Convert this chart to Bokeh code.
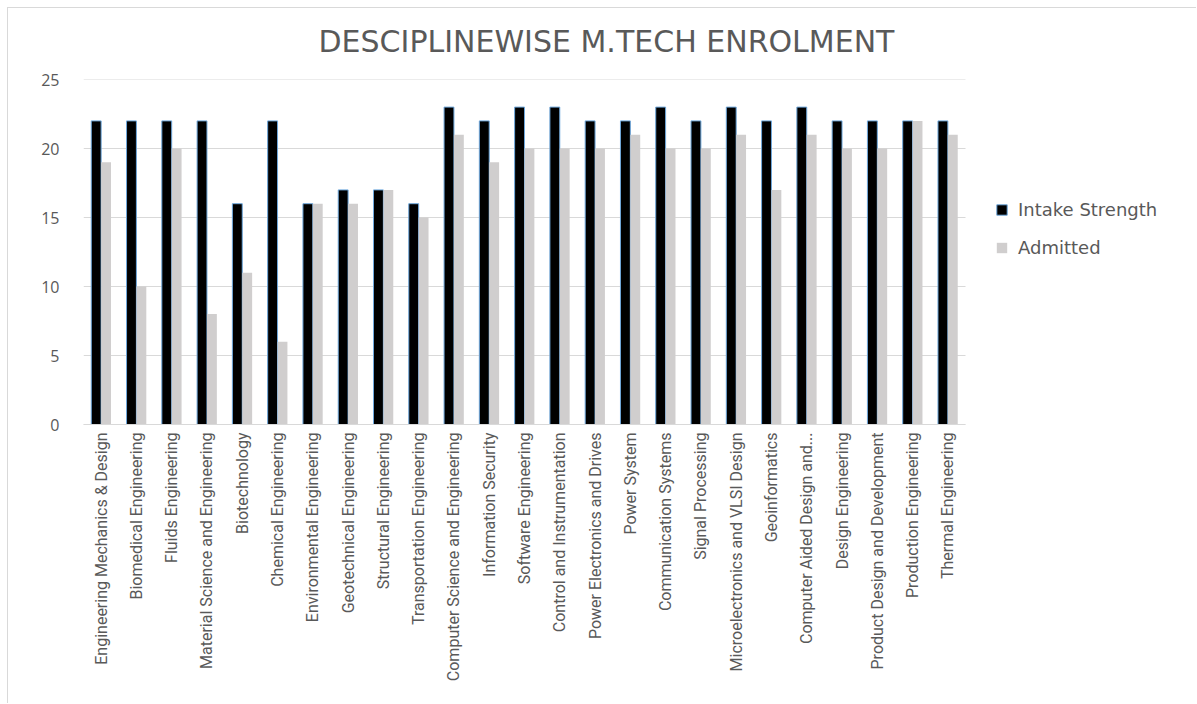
from bokeh.plotting import figure
from bokeh.models import ColumnDataSource, Range1d, Legend, LegendItem, FixedTicker
from bokeh.transform import dodge
from bokeh.embed import file_html
from bokeh.resources import INLINE
import math

categories = [
    "Engineering Mechanics & Design", "Biomedical Engineering", "Fluids Engineering",
    "Material Science and Engineering", "Biotechnology", "Chemical Engineering",
    "Environmental Engineering", "Geotechnical Engineering", "Structural Engineering",
    "Transportation Engineering", "Computer Science and Engineering", "Information Security",
    "Software Engineering", "Control and Instrumentation", "Power Electronics and Drives",
    "Power System", "Communication Systems", "Signal Processing",
    "Microelectronics and VLSI Design", "Geoinformatics", "Computer Aided Design and...",
    "Design Engineering", "Product Design and Development", "Production Engineering",
    "Thermal Engineering",
]
intake = [22, 22, 22, 22, 16, 22, 16, 17, 17, 16, 23, 22, 23, 23, 22, 22, 23, 22, 23, 22, 23, 22, 22, 22, 22]
admitted = [19, 10, 20, 8, 11, 6, 16, 16, 17, 15, 21, 19, 20, 20, 20, 21, 20, 20, 21, 17, 21, 20, 20, 22, 21]
y_ticks = [0, 5, 10, 15, 20, 25]
title_text = "DESCIPLINEWISE M.TECH ENROLMENT"
series_names = ["Intake Strength", "Admitted"]

n = len(categories)
idx = list(range(n))
src = ColumnDataSource(dict(idx=idx, cat=categories, intake=intake, admitted=admitted))

W, H = 1196, 703
left, right_px, top, bottom = 83, 1196, 79, 424
unit = 882 / n  # pixels per category
x_end = -0.5 + (right_px - left) / unit

p = figure(
    width=W, height=H,
    x_range=Range1d(-0.5, x_end),
    y_range=Range1d(0, 25),
    output_backend="svg", toolbar_location=None,
    min_border_left=left, min_border_right=W - right_px, min_border_top=top,
    min_border_bottom=H - bottom,
)
# light chart-area border (left and top edges) drawn behind a transparent canvas border
p.border_fill_alpha = 0
p.styles = {
    "background-color": "white",
    "background-image": "linear-gradient(#d9d9d9, #d9d9d9), linear-gradient(#d9d9d9, #d9d9d9)",
    "background-size": "1px calc(100% - 7px), calc(100% - 7px) 1px",
    "background-position": "7px 7px, 7px 7px",
    "background-repeat": "no-repeat",
}
p.outline_line_color = None

p.title.text = title_text
p.title.align = "left"
p.title.offset = 235
p.title.text_font = "DejaVu Sans"
p.title.text_font_size = "30px"
p.title.text_font_style = "normal"
p.title.text_color = "#595959"
p.title.standoff = 42

# gridlines limited to the category area
p.xgrid.grid_line_color = None
p.ygrid.grid_line_color = None
p.segment(x0=[-0.5] * len(y_ticks), x1=[n - 0.5] * len(y_ticks), y0=y_ticks, y1=y_ticks,
          line_color="#d9d9d9", line_width=1)

r1 = p.vbar(x=dodge("idx", -0.14), top="intake", width=0.28, source=src,
            fill_color="#000000", line_color="#6fa8dc", line_width=1)
r2 = p.vbar(x=dodge("idx", 0.14), top="admitted", width=0.28, source=src,
            fill_color="#d0cece", line_color=None)

p.yaxis.ticker = FixedTicker(ticks=y_ticks)
p.yaxis.axis_line_color = None
p.yaxis.major_tick_line_color = None
p.yaxis.minor_tick_line_color = None
p.yaxis.major_tick_out = 0
p.yaxis.major_label_standoff = 24
p.yaxis.major_label_text_font = "Open Sans"
p.yaxis.major_label_text_font_size = "16px"
p.yaxis.major_label_text_color = "#595959"

p.xaxis.ticker = FixedTicker(ticks=idx)
p.xaxis.major_label_overrides = {i: c for i, c in zip(idx, categories)}
p.xaxis.bounds = (-0.5, n - 0.5)
p.xaxis.axis_line_color = "#d9d9d9"
p.xaxis.major_tick_line_color = None
p.xaxis.minor_tick_line_color = None
p.xaxis.major_tick_out = 0
p.xaxis.major_label_orientation = math.pi / 2
p.xaxis.major_label_standoff = 8
p.xaxis.major_label_text_font = "Roboto"
p.xaxis.major_label_text_font_size = "16px"
p.xaxis.major_label_text_color = "#595959"

legend = Legend(items=[LegendItem(label=series_names[0], renderers=[r1]),
                       LegendItem(label=series_names[1], renderers=[r2])],
                location=(912, 164))
legend.glyph_width = 13
legend.glyph_height = 13
legend.label_height = 26
legend.spacing = 12
legend.padding = 0
legend.margin = 0
legend.label_standoff = 10
legend.border_line_color = None
legend.background_fill_alpha = 0
legend.label_text_font = "DejaVu Sans"
legend.label_text_font_size = "18px"
legend.label_text_color = "#595959"
p.add_layout(legend)

open("out.html", "w").write(file_html(p, INLINE))
